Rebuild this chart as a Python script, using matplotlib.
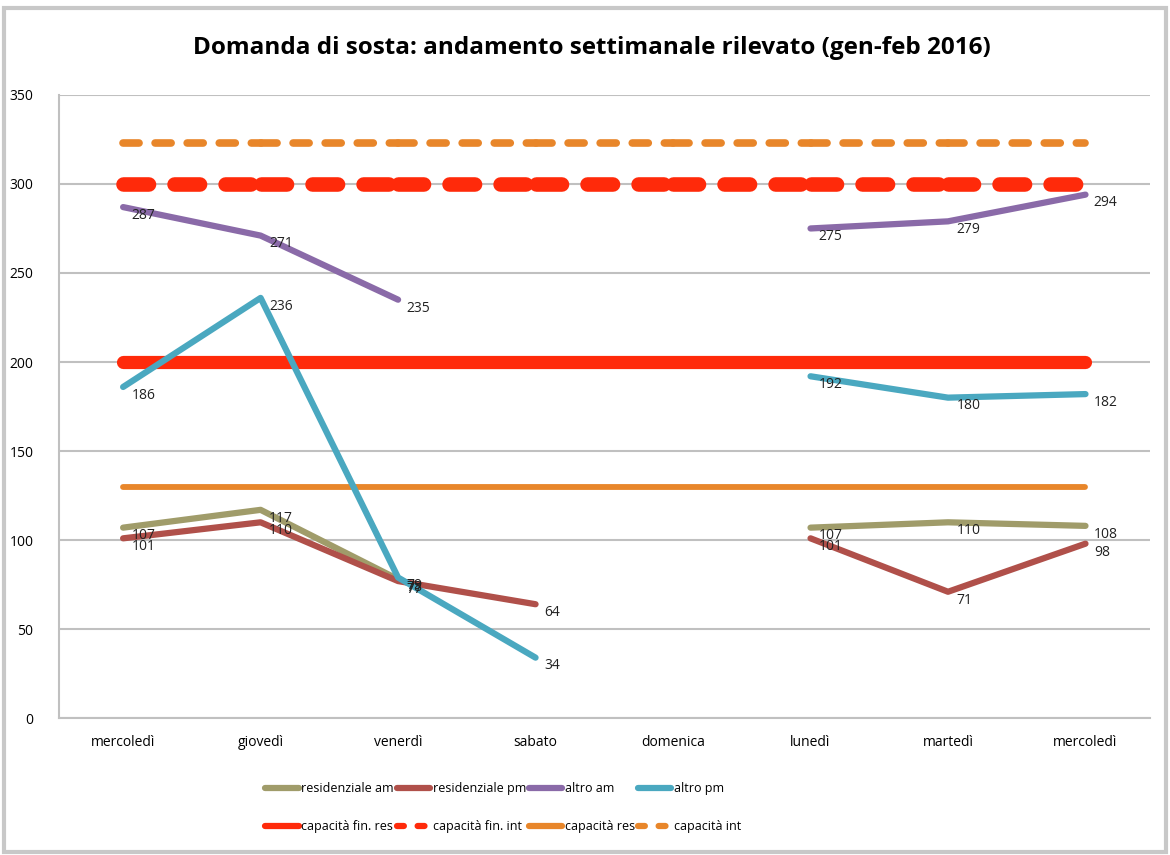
import numpy as np
import matplotlib
matplotlib.use("Agg")
import matplotlib.pyplot as plt
from matplotlib.lines import Line2D
from matplotlib.patches import Rectangle

plt.rcParams['font.family'] = ['Open Sans', 'DejaVu Sans']

# dati
giorni = ["mercoledì", "giovedì", "venerdì", "sabato", "domenica", "lunedì", "martedì", "mercoledì"]
res_am = [107, 117, 78, np.nan, np.nan, 107, 110, 108]
res_pm = [101, 110, 77, 64, np.nan, 101, 71, 98]
altro_am = [287, 271, 235, np.nan, np.nan, 275, 279, 294]
altro_pm = [186, 236, 79, 34, np.nan, 192, 180, 182]
cap_fin_res = [200] * 8
cap_fin_int = [300] * 8
cap_res = [130] * 8
cap_int = [323] * 8

x = np.arange(len(giorni))

RED = "#ff2a0a"
ORANGE = "#e8862a"

fig = plt.figure(figsize=(11.7, 8.55), dpi=100)
ax = fig.add_axes([0.05, 0.160, 0.933, 0.729])

# capacità (linee di riferimento)
ax.plot(x, cap_fin_res, color=RED, lw=9.5, solid_capstyle="round")
ax.plot(x, cap_res, color=ORANGE, lw=4.2, solid_capstyle="round")
# tratteggio ripartito su ogni segmento, come fa Excel
for i in range(len(x) - 1):
    ax.plot(x[i:i + 2], cap_fin_int[i:i + 2], color=RED, lw=10.5, dash_capstyle="round",
            dashes=(1.75, 1.75))
    ax.plot(x[i:i + 2], cap_int[i:i + 2], color=ORANGE, lw=5.5, dash_capstyle="round",
            dashes=(2.1, 2.1))

# serie rilevate
series = [
    (res_am, "#a09c6a", "residenziale am"),
    (res_pm, "#b0504a", "residenziale pm"),
    (altro_am, "#8a6aa8", "altro am"),
    (altro_pm, "#4aa8c0", "altro pm"),
]
for vals, col, lab in series:
    ax.plot(x, vals, color=col, lw=4.5, solid_capstyle="round", solid_joinstyle="round")
    for xi, v in zip(x, vals):
        if not np.isnan(v):
            ax.annotate(f"{v:g}", (xi, v), xytext=(6, -6), textcoords="offset points",
                        fontsize=10, color="#222222", va="center", ha="left")

ax.set_xlim(-0.47, 7.47)
ax.set_ylim(0, 350)
ax.set_yticks(np.arange(0, 351, 50))
ax.set_xticks(x)
ax.set_xticklabels(giorni, fontsize=10)
ax.tick_params(axis="y", labelsize=10, length=0, pad=18)
ax.tick_params(axis="x", length=0, pad=12)
ax.grid(axis="y", color="#c0c0c0", lw=1.5)
ax.set_axisbelow(True)
for s in ["top", "right"]:
    ax.spines[s].set_visible(False)
for s in ["left", "bottom"]:
    ax.spines[s].set_color("#c0c0c0")
    ax.spines[s].set_linewidth(1.5)

fig.text(0.506, 0.944, "Domanda di sosta: andamento settimanale rilevato (gen-feb 2016)",
         ha="center", va="center", fontsize=17.5, fontweight="bold")

# legenda: riga 1 le serie, riga 2 le capacità
row1 = [Line2D([], [], color=c, lw=4.5, solid_capstyle="round") for _, c, _ in series]
lab1 = [l for _, _, l in series]
row2 = [
    Line2D([], [], color=RED, lw=4.5, solid_capstyle="round"),
    Line2D([], [], color=RED, lw=4.5, dash_capstyle="round", dashes=(1.1, 2.2)),
    Line2D([], [], color=ORANGE, lw=4.5, solid_capstyle="round"),
    Line2D([], [], color=ORANGE, lw=4.5, dash_capstyle="round", dashes=(1.1, 2.2)),
]
lab2 = ["capacità fin. res", "capacità fin. int", "capacità res", "capacità int"]
handles, labels = [], []
for h1, l1, h2, l2 in zip(row1, lab1, row2, lab2):
    handles += [h1, h2]
    labels += [l1, l2]
fig.legend(handles, labels, ncol=4, loc="center", bbox_to_anchor=(0.43, 0.055),
           frameon=False, fontsize=9, handlelength=2.7, handletextpad=0.2,
           columnspacing=0.2, labelspacing=2.0)

# cornice
fig.add_artist(Rectangle((0.003, 0.003), 0.994, 0.988, transform=fig.transFigure,
                         fill=False, edgecolor="#c8c8c8", lw=3))

plt.savefig("out.png", dpi=100)
plt.close(fig)
